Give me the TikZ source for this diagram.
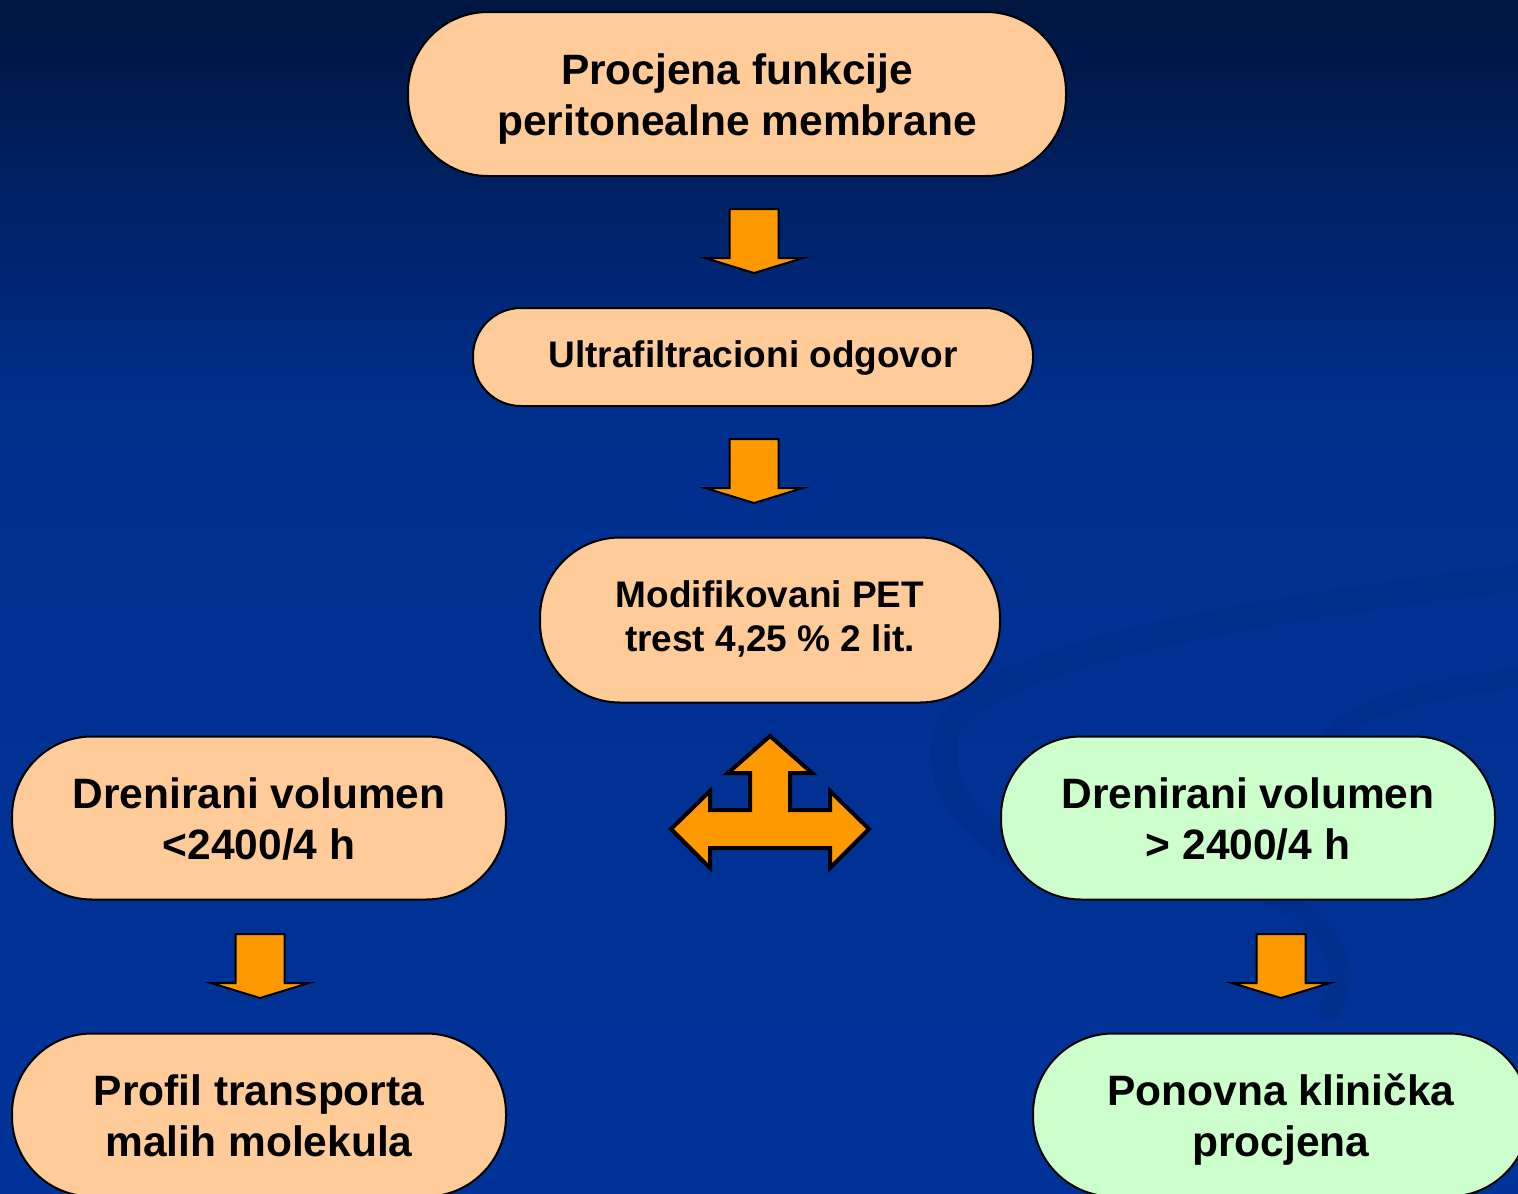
\documentclass[tikz,border=0pt]{standalone}
\usepackage{fontspec}
\setmainfont{Liberation Sans}
\definecolor{peach}{HTML}{FFCC99}
\definecolor{mint}{HTML}{CCFFCC}
\definecolor{orng}{HTML}{FF9900}
\definecolor{bgtop}{HTML}{001540}
\definecolor{bgmid}{HTML}{002F8E}
\definecolor{bgbot}{HTML}{003399}
\definecolor{swirlc}{HTML}{002D8A}
\newcommand\bigtopx{\rule{0pt}{40pt}}
\newcommand\bigbotx{\rule[-9pt]{0pt}{9pt}}
\newcommand\smalltopx{\rule{0pt}{34pt}}
\newcommand\smallbotx{\rule[-16pt]{0pt}{16pt}}
\newcommand\singlebotx{\rule[-14pt]{0pt}{14pt}}
\begin{document}
\begin{tikzpicture}[x=1pt,y=-1pt,
  box/.style={draw=black, line width=2pt, align=center, inner sep=0pt, text=black},
  bigtxt/.style={font=\fontsize{42.5}{51}\selectfont\bfseries},
  smalltxt/.style={font=\fontsize{37}{44}\selectfont\bfseries},
  blockarrow/.style={fill=orng, draw=black, line width=2pt, line join=miter},
  downarr/.pic={\draw[blockarrow] (-24.5,0) -- (24.5,0) -- (24.5,49) -- (49,49) -- (0,64) -- (-49,49) -- (-24.5,49) -- cycle;}
]
\useasboundingbox (0,0) rectangle (1518,1194);
\begin{scope}
\clip (0,0) rectangle (1518,1194);
% background
\shade[top color=bgtop, bottom color=bgmid] (0,-1) rectangle (1519,420);
\shade[top color=bgmid, bottom color=bgbot] (0,419) rectangle (1519,1195);
% faint swirl decoration
\draw[swirlc, line width=26pt, line cap=round, opacity=0.6]
  (1540,575) .. controls (1300,605) and (960,650) .. (945,740)
  .. controls (935,800) and (990,850) .. (1070,880);
\draw[swirlc, line width=20pt, line cap=round, opacity=0.6]
  (1540,675) .. controls (1440,685) and (1360,705) .. (1335,735);
\draw[swirlc, line width=22pt, line cap=round, opacity=0.6]
  (1230,880) .. controls (1320,905) and (1360,960) .. (1330,1010);

% nodes
\node[box, bigtxt, fill=peach, rounded corners=80pt, minimum width=658pt, minimum height=164pt]
  (n1) at (737,94) {\bigtopx Procjena funkcije\\peritonealne membrane\bigbotx};
\node[box, smalltxt, fill=peach, rounded corners=48pt, minimum width=560pt, minimum height=98pt]
  (n2) at (753,357) {\smalltopx Ultrafiltracioni odgovor\singlebotx};
\node[box, smalltxt, fill=peach, rounded corners=80pt, minimum width=460pt, minimum height=165pt]
  (n3) at (770,620) {\smalltopx Modifikovani PET\\trest 4,25 \% 2 lit.\smallbotx};
\node[box, bigtxt, fill=peach, rounded corners=80pt, minimum width=494pt, minimum height=163pt]
  (n4) at (259,818) {\bigtopx Drenirani volumen\\<2400/4 h\bigbotx};
\node[box, bigtxt, fill=mint, rounded corners=80pt, minimum width=494pt, minimum height=163pt]
  (n5) at (1248,818) {\bigtopx Drenirani volumen\\> 2400/4 h\bigbotx};
\node[box, bigtxt, fill=peach, rounded corners=80pt, minimum width=494pt, minimum height=163pt]
  (n6) at (259,1115) {\bigtopx Profil transporta\\malih molekula\bigbotx};
\node[box, bigtxt, fill=mint, rounded corners=80pt, minimum width=496pt, minimum height=163pt]
  (n7) at (1281,1115) {\bigtopx Ponovna klinička\\procjena\bigbotx};

% down block arrows
\pic at (754,209) {downarr};
\pic at (754,439) {downarr};
\pic at (260,934) {downarr};
\pic at (1281,934) {downarr};

% three-way arrow
\draw[blockarrow, line width=4pt]
  (770,736) -- (812,773) -- (790,773) -- (790,810) -- (830,810) -- (830,791)
  -- (869,829) -- (830,868) -- (830,848) -- (710,848) -- (710,868)
  -- (671,829) -- (710,791) -- (710,810) -- (750,810) -- (750,773)
  -- (728,773) -- cycle;
\end{scope}
\end{tikzpicture}
\end{document}
